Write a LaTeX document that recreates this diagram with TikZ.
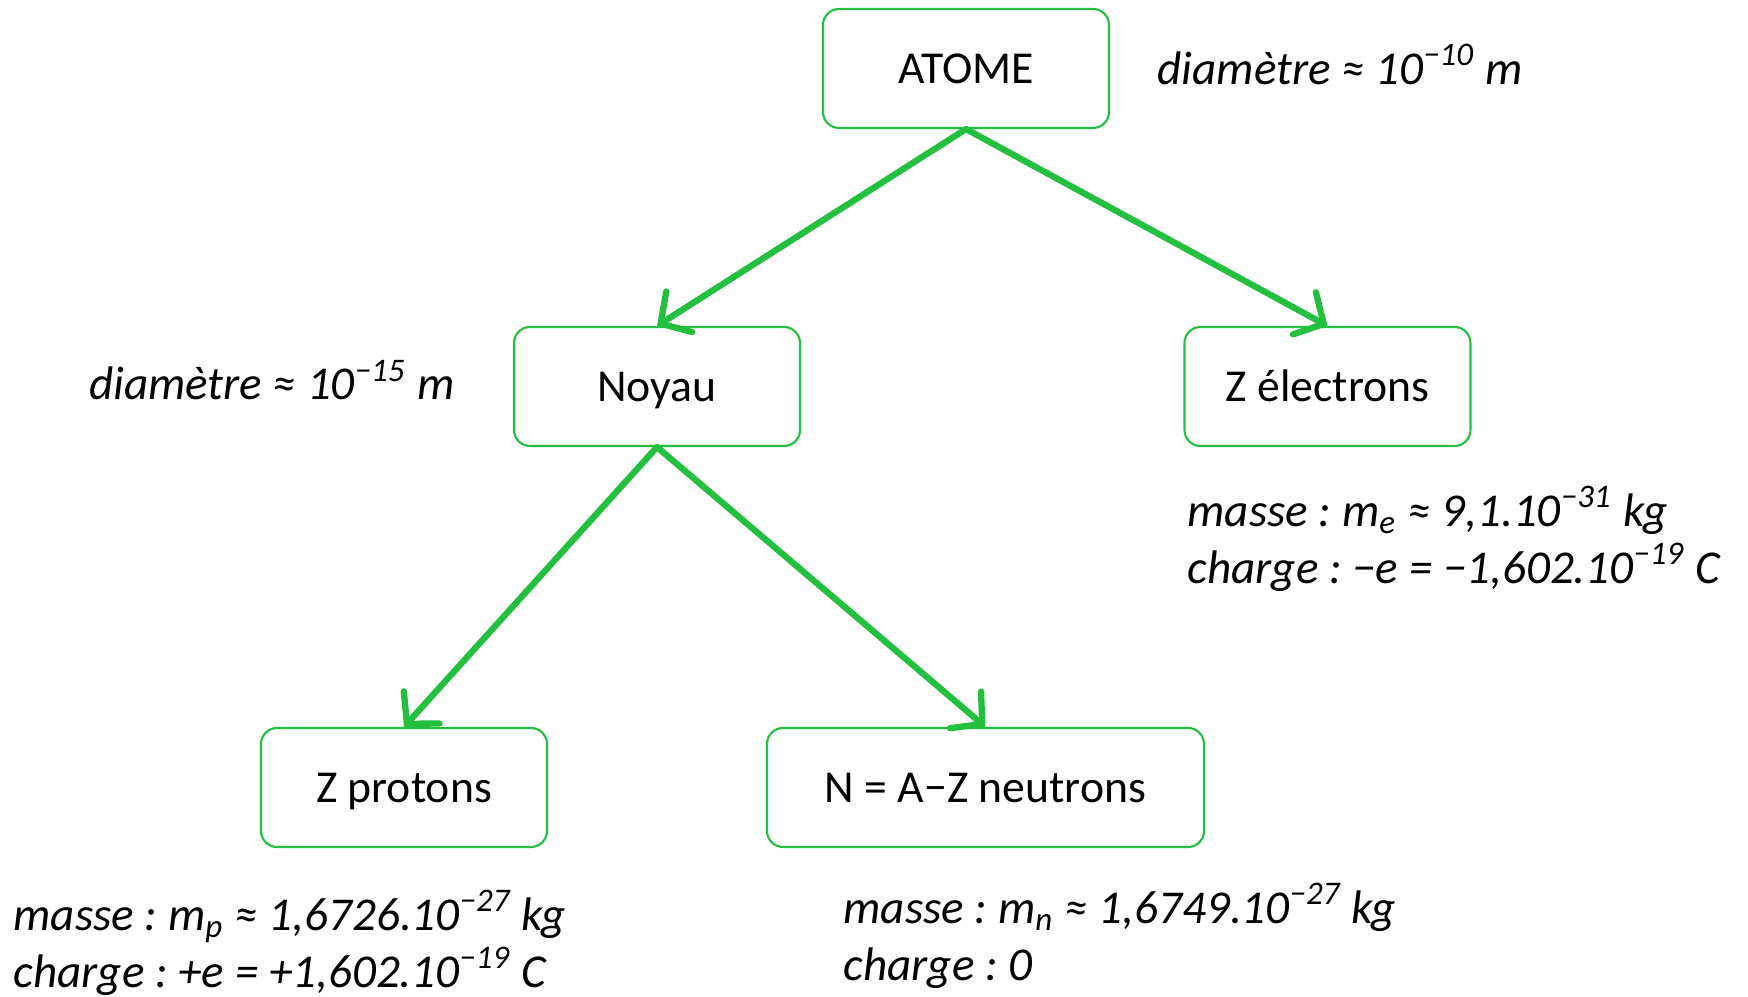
\documentclass[tikz,border=0pt]{standalone}
\usepackage{fontspec}
\setmainfont{Carlito}
\frenchspacing
\usetikzlibrary{arrows.meta,positioning}
\definecolor{vert}{RGB}{34,192,62}

\tikzset{
  boite/.style={draw=vert, line width=0.6pt, rounded corners=0.16cm,
    minimum width=2.86cm, minimum height=1.19cm,
    text height=8.4pt, text depth=0pt,
    font=\fontsize{13}{16.2}\selectfont},
  fleche/.style={draw=vert, line width=1.8pt, line cap=round,
    -{Straight Barb[length=2.2mm,width=4.8mm,line cap=round]}},
  info/.style={anchor=west, align=left, inner sep=0pt,
    font=\fontsize{13.4}{16.2}\selectfont\itshape}
}

\begin{document}
\begin{tikzpicture}
	\useasboundingbox (0,0) rectangle (17.48,-9.97);
	% les boites
	\node[boite] (atome) at (9.66,-0.685) {ATOME};
	\node[boite] (noyau) at (6.57,-3.865) {Noyau};
	\node[boite] (electrons) at (13.275,-3.865) {Z électrons};
	\node[boite] (protons) at (4.04,-7.875) {Z protons};
	\node[boite, minimum width=4.37cm] (neutrons) at (9.855,-7.875) {N = A−Z neutrons};
	% les fleches
	\draw[fleche] (atome.south) -- (noyau.north);
	\draw[fleche] (atome.south) -- (electrons.north);
	\draw[fleche] (noyau.south) -- (protons.north);
	\draw[fleche] (noyau.south) -- (neutrons.north);
	% les donnees
	\node[info] (diamatome) at (11.57,-0.645) {diamètre ≈ 10\textsuperscript{−10} m};
	\node[info, anchor=east] (diamnoyau) at (4.55,-3.80) {diamètre ≈ 10\textsuperscript{−15} m};
	\node[info] (infoelec) at (11.87,-5.39) {masse : m\textsubscript{e} ≈ 9,1.10\textsuperscript{−31} kg\\charge : −e = −1,602.10\textsuperscript{−19} C};
	\node[info] (infoprot) at (0.13,-9.43) {masse : m\textsubscript{p} ≈ 1,6726.10\textsuperscript{−27} kg\\charge : +e = +1,602.10\textsuperscript{−19} C};
	\node[info] (infoneut) at (8.43,-9.36) {masse : m\textsubscript{n} ≈ 1,6749.10\textsuperscript{−27} kg\\charge : 0};
\end{tikzpicture}
\end{document}
